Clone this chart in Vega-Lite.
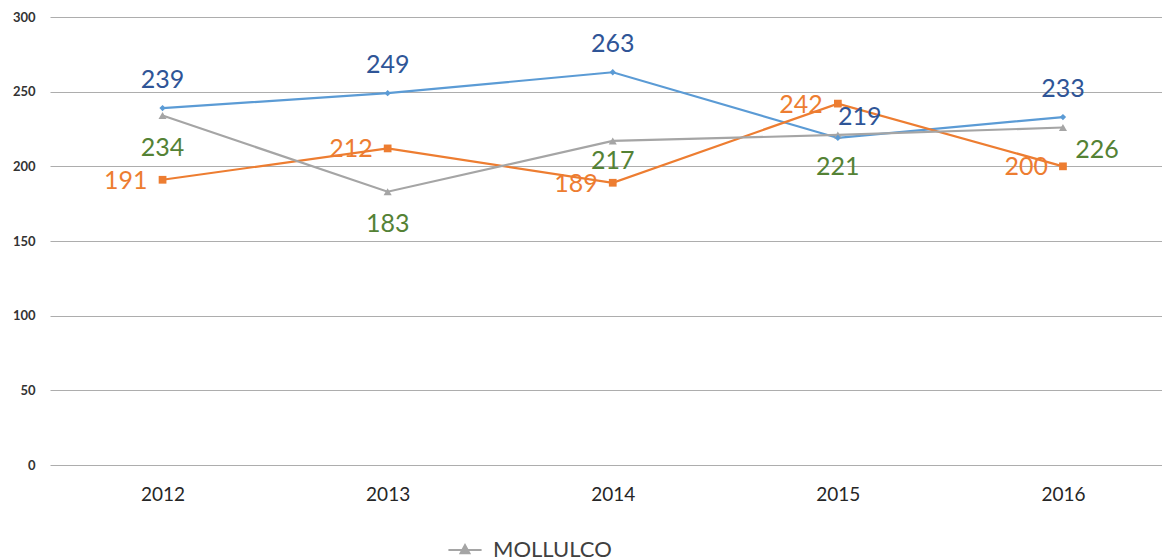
{
  "$schema": "https://vega.github.io/schema/vega-lite/v6.json",
  "width": 1112,
  "height": 448,
  "autosize": "none",
  "padding": {"left": 50, "top": 17, "right": 0, "bottom": 95},
  "background": "white",
  "config": {
    "view": {"stroke": null},
    "font": "Lato",
    "legend": {
      "orient": "none",
      "legendX": 397,
      "legendY": 515,
      "title": null,
      "labelFont": "Lato",
      "labelFontSize": 22,
      "labelColor": "#404040",
      "symbolType": "M-1,0H1M-0.27,0.2L0,-0.3L0.27,0.2Z",
      "symbolSize": 1100,
      "symbolStrokeWidth": 2,
      "labelOffset": 10
    }
  },
  "data": {
    "values": [
      {"year": 2012, "series": "Serie 1", "value": 239},
      {"year": 2013, "series": "Serie 1", "value": 249},
      {"year": 2014, "series": "Serie 1", "value": 263},
      {"year": 2015, "series": "Serie 1", "value": 219},
      {"year": 2016, "series": "Serie 1", "value": 233},
      {"year": 2012, "series": "Serie 2", "value": 191},
      {"year": 2013, "series": "Serie 2", "value": 212},
      {"year": 2014, "series": "Serie 2", "value": 189},
      {"year": 2015, "series": "Serie 2", "value": 242},
      {"year": 2016, "series": "Serie 2", "value": 200},
      {"year": 2012, "series": "MOLLULCO", "value": 234},
      {"year": 2013, "series": "MOLLULCO", "value": 183},
      {"year": 2014, "series": "MOLLULCO", "value": 217},
      {"year": 2015, "series": "MOLLULCO", "value": 221},
      {"year": 2016, "series": "MOLLULCO", "value": 226}
    ]
  },
  "encoding": {
    "x": {
      "field": "year",
      "type": "quantitative",
      "scale": {"domain": [2011.5, 2016.44], "nice": false, "zero": false},
      "axis": {
        "values": [2012, 2013, 2014, 2015, 2016],
        "format": "d",
        "grid": false,
        "domain": false,
        "ticks": false,
        "labelFont": "Lato",
        "labelFontSize": 19,
        "labelColor": "#262626",
        "labelPadding": 20,
        "title": null
      }
    },
    "y": {
      "field": "value",
      "type": "quantitative",
      "scale": {"domain": [0, 300], "nice": false},
      "axis": {
        "values": [0, 50, 100, 150, 200, 250, 300],
        "grid": true,
        "gridColor": "#ADADAD",
        "gridWidth": 1,
        "domain": false,
        "ticks": false,
        "labelFont": "Lato",
        "labelFontSize": 13,
        "labelFontWeight": "bold",
        "labelColor": "#333333",
        "labelPadding": 15,
        "title": null
      }
    }
  },
  "layer": [
    {
      "mark": {"type": "line", "strokeWidth": 2.2},
      "encoding": {
        "color": {
          "field": "series",
          "type": "nominal",
          "scale": {"domain": ["MOLLULCO", "Serie 1", "Serie 2"], "range": ["#A5A5A5", "#5B9BD5", "#ED7D31"]},
          "legend": {
            "values": ["MOLLULCO"],
            "symbolType": "M-1,0H1M-0.27,0.2L0,-0.3L0.27,0.2Z",
            "symbolFillColor": "#A5A5A5",
            "symbolStrokeColor": "#A5A5A5",
            "symbolSize": 1100,
            "symbolStrokeWidth": 2,
            "encode": {
              "symbols": {
                "update": {
                  "fill": {"value": "#A5A5A5"},
                  "stroke": {"value": "#A5A5A5"},
                  "strokeWidth": {"value": 2},
                  "opacity": {"value": 1}
                }
              }
            }
          }
        }
      }
    },
    {
      "transform": [{"filter": "datum.series == 'MOLLULCO'"}],
      "mark": {"type": "point", "filled": true, "opacity": 1, "shape": "triangle-up", "size": 65, "color": "#A5A5A5"}
    },
    {
      "transform": [{"filter": "datum.series == 'Serie 1'"}],
      "mark": {"type": "point", "filled": true, "opacity": 1, "shape": "diamond", "size": 40, "color": "#5B9BD5"}
    },
    {
      "transform": [{"filter": "datum.series == 'Serie 2'"}],
      "mark": {"type": "point", "filled": true, "opacity": 1, "shape": "square", "size": 60, "color": "#ED7D31"}
    },
    {
      "transform": [{"filter": "datum.series == 'Serie 1' && datum.year != 2015"}],
      "mark": {"type": "text", "font": "Lato", "fontSize": 25, "color": "#2F5597", "align": "center", "baseline": "middle", "dy": -28},
      "encoding": {"text": {"field": "value", "type": "quantitative"}}
    },
    {
      "transform": [{"filter": "datum.series == 'Serie 1' && datum.year == 2015"}],
      "mark": {"type": "text", "font": "Lato", "fontSize": 25, "color": "#2F5597", "align": "center", "baseline": "middle", "dx": 22, "dy": -21},
      "encoding": {"text": {"field": "value", "type": "quantitative"}}
    },
    {
      "transform": [{"filter": "datum.series == 'Serie 2'"}],
      "mark": {"type": "text", "font": "Lato", "fontSize": 25, "color": "#ED7D31", "align": "right", "baseline": "middle", "dx": -15, "dy": 1},
      "encoding": {"text": {"field": "value", "type": "quantitative"}}
    },
    {
      "transform": [{"filter": "datum.series == 'MOLLULCO' && datum.year != 2014 && datum.year != 2016"}],
      "mark": {"type": "text", "font": "Lato", "fontSize": 25, "color": "#548235", "align": "center", "baseline": "middle", "dy": 32},
      "encoding": {"text": {"field": "value", "type": "quantitative"}}
    },
    {
      "transform": [{"filter": "datum.series == 'MOLLULCO' && datum.year == 2014"}],
      "mark": {"type": "text", "font": "Lato", "fontSize": 25, "color": "#548235", "align": "center", "baseline": "middle", "dy": 20},
      "encoding": {"text": {"field": "value", "type": "quantitative"}}
    },
    {
      "transform": [{"filter": "datum.series == 'MOLLULCO' && datum.year == 2016"}],
      "mark": {"type": "text", "font": "Lato", "fontSize": 25, "color": "#548235", "align": "center", "baseline": "middle", "dx": 34, "dy": 22},
      "encoding": {"text": {"field": "value", "type": "quantitative"}}
    }
  ]
}
